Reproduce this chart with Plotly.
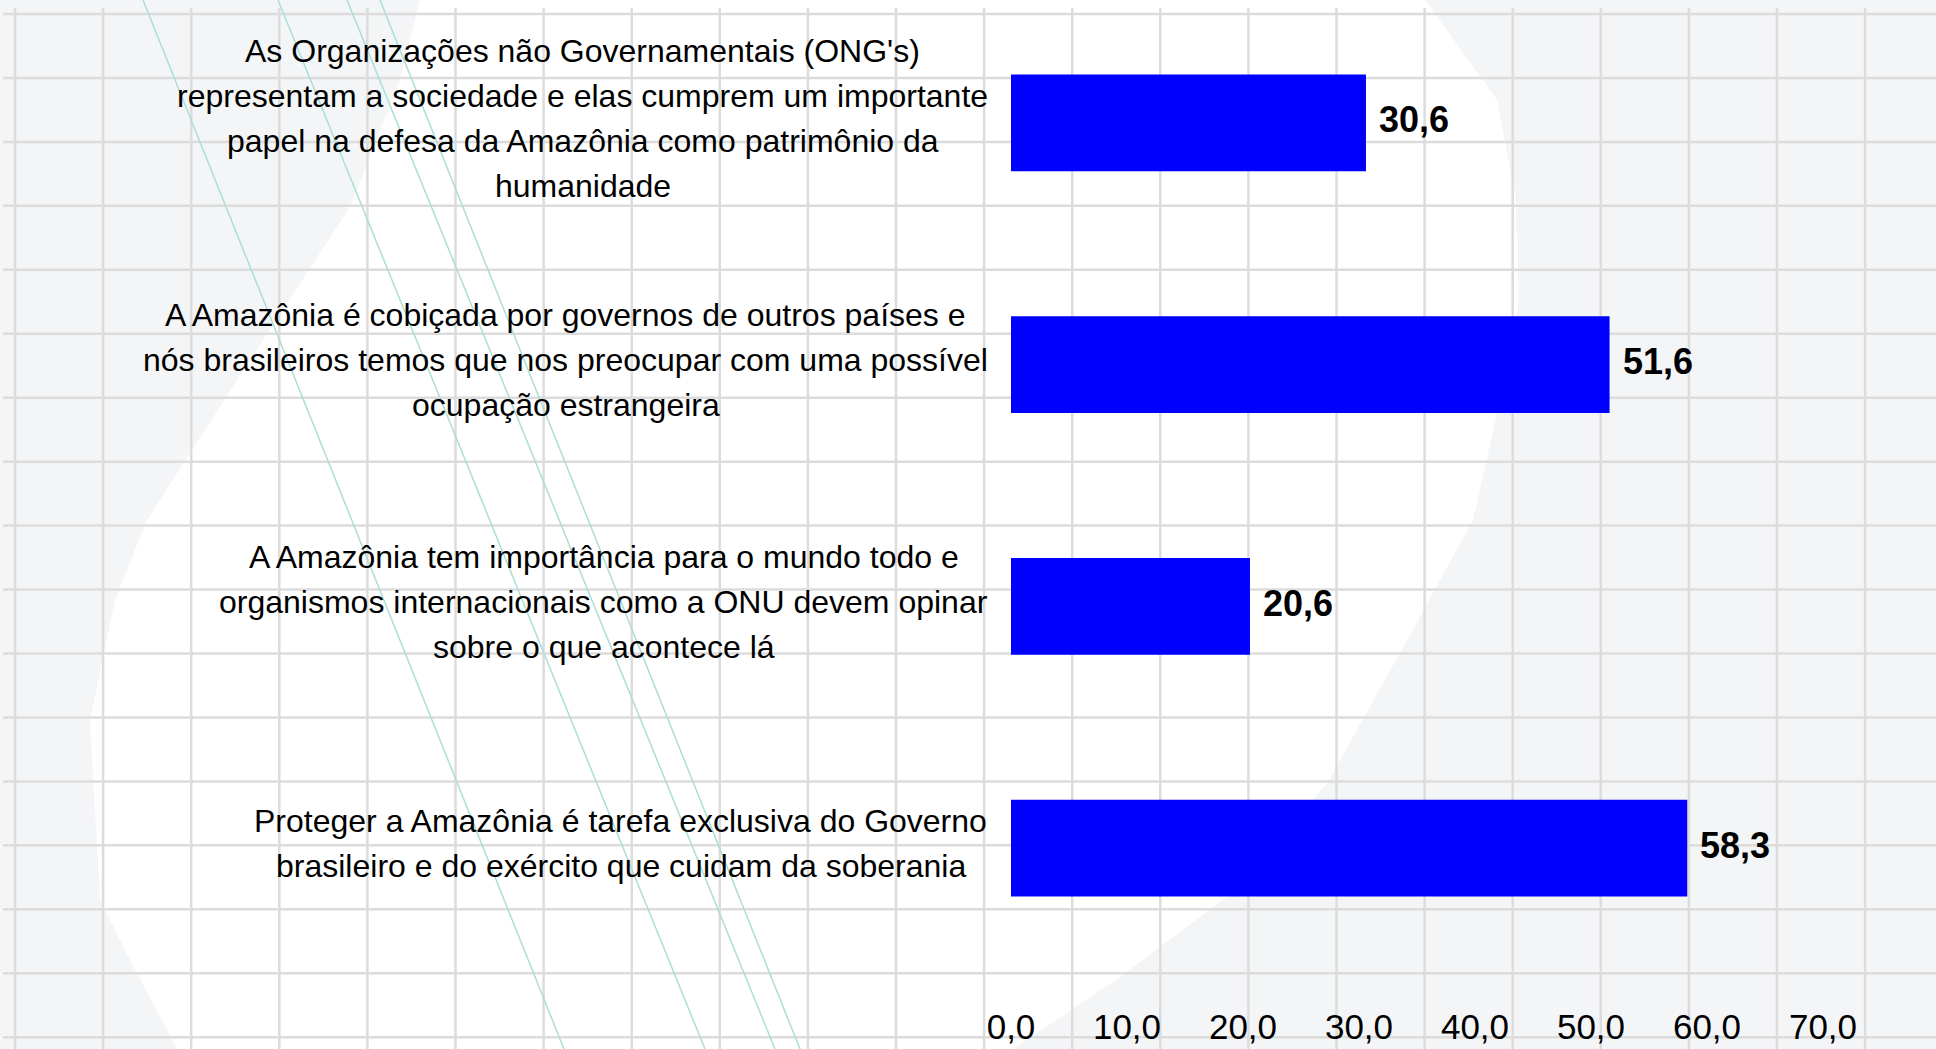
import plotly.graph_objects as go

# ---------------- data ----------------
label_lines = [
    ["As Organizações não Governamentais (ONG's)",
     "representam a sociedade e elas cumprem um importante",
     "papel na defesa da Amazônia como patrimônio da",
     "humanidade"],
    ["A Amazônia é cobiçada por governos de outros países e",
     "nós brasileiros temos que nos preocupar com uma possível",
     "ocupação estrangeira"],
    ["A Amazônia tem importância para o mundo todo e",
     "organismos internacionais como a ONU devem opinar",
     "sobre o que acontece lá"],
    ["Proteger a Amazônia é tarefa exclusiva do Governo",
     "brasileiro e do exército que cuidam da soberania"],
]
categories = [" ".join(lines) for lines in label_lines]
values = [30.6, 51.6, 20.6, 58.3]
tick_values = [0, 10, 20, 30, 40, 50, 60, 70]
tick_labels = ["0,0", "10,0", "20,0", "30,0", "40,0", "50,0", "60,0", "70,0"]

# ---------------- geometry / style ----------------
W, H = 1936, 1049
ML, MR, MT, MB = 1011, 113, 2, 80
PW, PH = W - ML - MR, H - MT - MB
FONT = "Liberation Sans, Arial, Helvetica, sans-serif"
LABEL_SIZE = 32
LINE_GAP = 45
BAR_COLOR = "#0000FF"
BG = "#f4f5f7"
GRID = "#dcdcdc"
TEAL = "#aadfd6"

# Arial / Liberation Sans advance widths (per 1000 em)
AW = {" ": 278, "(": 333, ")": 333, "'": 191, "A": 667, "G": 778, "N": 722,
      "O": 778, "P": 667, "U": 722, "a": 556, "b": 556, "c": 500, "d": 556,
      "e": 556, "f": 278, "g": 556, "h": 556, "i": 222, "l": 222, "m": 833,
      "n": 556, "o": 556, "p": 556, "q": 556, "r": 333, "s": 500, "t": 278,
      "u": 556, "v": 500, "x": 500, "z": 500, "á": 556, "ã": 556, "â": 556,
      "ç": 500, "é": 556, "ê": 556, "í": 278, "ó": 556, "ô": 556, "õ": 556}


def text_width(s, size):
    return sum(AW.get(ch, 556) for ch in s) * size / 1000.0


def px(x):
    return (x - ML) / PW


def py(y):
    return 1 - (y - MT) / PH


fig = go.Figure()
fig.add_trace(go.Bar(
    x=values, y=categories, orientation="h",
    marker=dict(color=BAR_COLOR, line=dict(width=0)),
    hoverinfo="x+y",
))

annotations = []
# category labels (block right-aligned, lines centered)
for cat, lines in zip(categories, label_lines):
    block_w = max(text_width(s, LABEL_SIZE) for s in lines)
    mid = (len(lines) - 1) / 2
    for i, s in enumerate(lines):
        annotations.append(dict(
            x=0, y=cat, xref="x", yref="y", text=s, showarrow=False,
            xanchor="center", yanchor="middle",
            xshift=-23 - block_w / 2, yshift=(mid - i) * LINE_GAP + 4.5,
            font=dict(family=FONT, size=LABEL_SIZE, color="black"),
        ))
# value labels
for cat, v in zip(categories, values):
    annotations.append(dict(
        x=v, y=cat, xref="x", yref="y",
        text="<b>" + f"{v:.1f}".replace(".", ",") + "</b>",
        showarrow=False, xanchor="left", yanchor="middle", xshift=11, yshift=3,
        font=dict(family=FONT, size=36, color="black"),
    ))

# ---------------- decorative slide background ----------------
shapes = []
blob = [(420, 0), (1425, 0), (1497, 100), (1516, 200), (1519, 300), (1500, 400),
        (1473, 520), (1400, 653), (1327, 783), (1245, 883), (1120, 977),
        (1013, 1049), (177, 1049), (130, 960), (100, 900), (90, 720),
        (115, 600), (147, 520), (250, 360), (350, 207), (400, 80)]
path = "M " + " L ".join(f"{px(a):.5f},{py(b):.5f}" for a, b in blob) + " Z"
shapes.append(dict(type="path", path=path, xref="paper", yref="paper",
                   fillcolor="white", line=dict(width=0), layer="below"))
k = 0
while 15 + 88.1 * k < W:
    xv = 15 + 88.1 * k
    shapes.append(dict(type="line", xref="paper", yref="paper",
                       x0=px(xv), x1=px(xv), y0=py(8), y1=py(H),
                       line=dict(color=GRID, width=2.5), layer="below"))
    k += 1
k = 0
while 14 + 63.95 * k < H:
    yv = 14 + 63.95 * k
    shapes.append(dict(type="line", xref="paper", yref="paper",
                       x0=px(3), x1=px(W), y0=py(yv), y1=py(yv),
                       line=dict(color=GRID, width=2.5), layer="below"))
    k += 1
for xt, xb in [(143, 564), (278, 705), (347, 775), (380, 800)]:
    shapes.append(dict(type="line", xref="paper", yref="paper",
                       x0=px(xt), x1=px(xb), y0=py(0), y1=py(H),
                       line=dict(color=TEAL, width=1.5), layer="below"))

fig.update_layout(
    width=W, height=H,
    margin=dict(l=ML, r=MR, t=MT, b=MB, pad=0),
    paper_bgcolor=BG, plot_bgcolor="rgba(0,0,0,0)",
    bargap=0.6, showlegend=False,
    font=dict(family=FONT, color="black"),
    annotations=annotations, shapes=shapes,
    xaxis=dict(range=[0, 70], tickvals=tick_values, ticktext=tick_labels,
               showgrid=False, zeroline=False, showline=False,
               ticks="outside", ticklen=27, tickcolor="rgba(0,0,0,0)",
               tickfont=dict(family=FONT, size=35, color="black"),
               fixedrange=True),
    yaxis=dict(categoryorder="array", categoryarray=categories,
               autorange="reversed", showticklabels=False, showgrid=False,
               zeroline=False, showline=False, ticks="", fixedrange=True),
)

fig.write_html("out.html", config={"displayModeBar": False},
               post_script="document.body.style.margin='0';document.body.style.overflow='hidden';")
